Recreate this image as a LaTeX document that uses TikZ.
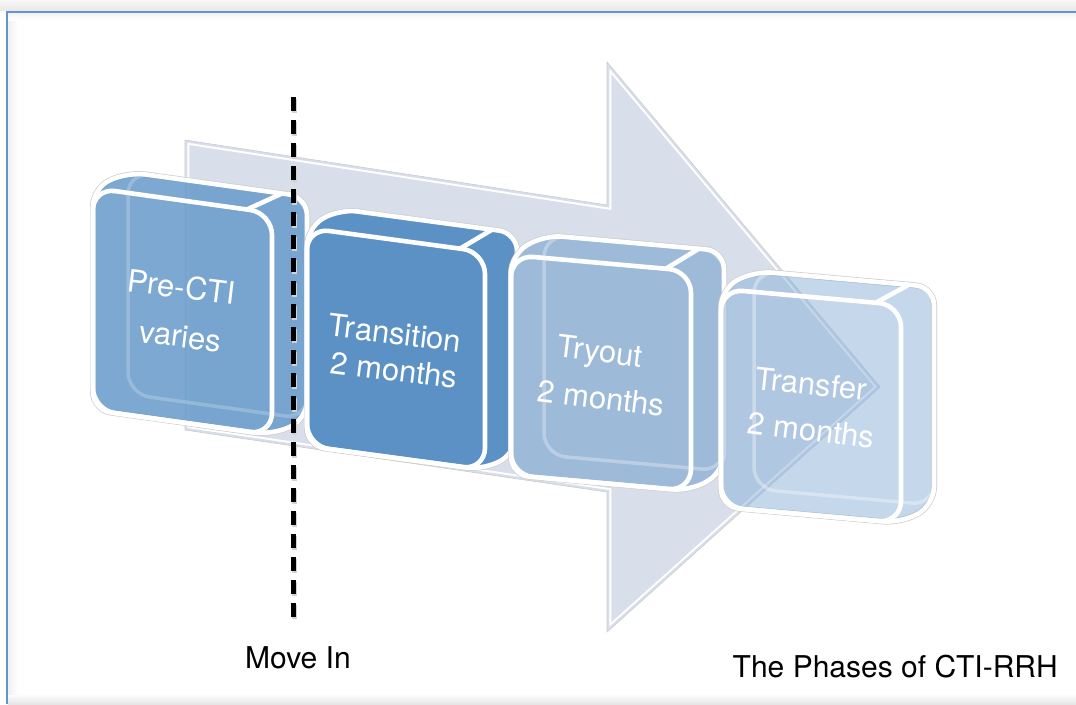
\documentclass[tikz,border=0pt]{standalone}
\usepackage{fontspec}
\setmainfont{TeX Gyre Heros}
\usetikzlibrary{calc}
\definecolor{arrowc}{RGB}{216,223,235}
\definecolor{frameblue}{RGB}{98,148,208}
\definecolor{cubeA}{RGB}{110,159,204}
\definecolor{cubeB}{RGB}{91,145,197}
\definecolor{cubeC}{RGB}{158,186,217}
\definecolor{cubeD}{RGB}{135,175,216}
\definecolor{edgegray}{RGB}{205,205,205}
\newcommand{\backop}{0.3}
\newcommand{\arrowpoly}{(185,140) -- (607,205) -- (607,62) -- (880,387) -- (607,632) -- (607,492) -- (185,430) -- cycle}
% x y w h s dx dy colour opacity
\newcommand{\cubebox}[9]{%
  \coordinate (A) at (#1,#2);
  \coordinate (B) at ($(A)+(#3,#5)$);
  \coordinate (D) at ($(A)+(0,#4)$);
  \coordinate (C) at ($(B)+(0,#4)$);
  \coordinate (A2) at ($(A)+(#6,#7)$);
  \coordinate (B2) at ($(B)+(#6,#7)$);
  \coordinate (C2) at ($(C)+(#6,#7)$);
  \coordinate (D2) at ($(D)+(#6,#7)$);
  \draw[edgegray, line width=6pt, rounded corners=18pt] (A) -- (A2) -- (B2) -- (C2) -- (C) -- (D) -- cycle;
  \fill[#8, fill opacity=#9, rounded corners=18pt] (A) -- (A2) -- (B2) -- (C2) -- (C) -- (D) -- cycle;
  \draw[white, opacity=\backop, line width=3.5pt, rounded corners=22pt] (A2) -- (B2) -- (C2) -- (D2) -- cycle;
  \draw[cubeline, rounded corners=22pt] (A) -- (B) -- (C) -- (D) -- cycle;
  \draw[cubeline] ($(A)!0.86!(B)$) -- ++(#6,#7);
  \draw[cubeline, rounded corners=18pt] (A) -- (A2) -- (B2) -- (C2) -- (C) -- (D) -- cycle;
}
\begin{document}
\begin{tikzpicture}[x=1pt,y=-1pt,
  cubeline/.style={white, line width=4.6pt},
  boxtext/.style={white, font=\fontsize{31}{31}\selectfont, anchor=base, rotate=-7, inner sep=0pt},
  plaintext/.style={black, font=\fontsize{30}{30}\selectfont, inner sep=0pt}]
\useasboundingbox (0,0) rectangle (1076,704);
% frame
\fill[white] (0,0) rectangle (1076,704);
\shade[top color=gray!6, bottom color=gray!18] (0,0) rectangle (1076,10.5);
\shade[top color=white, bottom color=gray!20] (8,694) rectangle (1076,704);
\shade[left color=gray!12, right color=white] (8,13) rectangle (18,694);
\shade[top color=gray!10, bottom color=white] (8,13) rectangle (1076,20);
\draw[frameblue, line width=2pt] (7,704) -- (7,11.5) -- (1076,11.5);
% big arrow
\fill[arrowc] \arrowpoly;
\begin{scope}
  \clip \arrowpoly;
  \draw[white, line width=8.5pt] \arrowpoly;
  \draw[arrowc, line width=4.5pt] \arrowpoly;
\end{scope}
\draw[edgegray, line width=0.6pt] \arrowpoly;
% cubes
\renewcommand{\backop}{0.22}
\cubebox{93}{188}{179}{222}{25}{35}{-16}{cubeA}{0.9}
\renewcommand{\backop}{0}
\cubebox{307}{228}{178}{218}{24}{32}{-19}{cubeB}{1}
\renewcommand{\backop}{0.3}
\cubebox{511}{255}{180}{220}{16}{33}{-20}{cubeC}{1}
\renewcommand{\backop}{0.35}
\cubebox{721}{289}{180}{218}{16}{33}{-18}{cubeD}{0.49}
% texts in cubes
\node[boxtext] (t1a) at (180,298) {Pre-CTI};
\node[boxtext] (t1b) at (179,347) {varies};
\node[boxtext] (t2a) at (394,344) {Transition};
\node[boxtext] (t2b) at (393,381) {2 months};
\node[boxtext] (t3a) at (599,362) {Tryout};
\node[boxtext] (t3b) at (600,409) {2 months};
\node[boxtext, rotate=1] (t4a) at (810,395) {Transfer};
\node[boxtext] (t4b) at (810,441) {2 months};
% move-in line
\draw[gray!35, line width=5pt, dash pattern=on 14pt off 9pt] (294.5,99) -- (294.5,627);
\draw[black, line width=5pt, dash pattern=on 14pt off 9pt] (293,97) -- (293,625);
\node[plaintext, anchor=base west] (movein) at (245,668) {Move In};
\node[plaintext, anchor=base east] (title) at (1058,677) {The Phases of CTI-RRH};
\end{tikzpicture}
\end{document}
